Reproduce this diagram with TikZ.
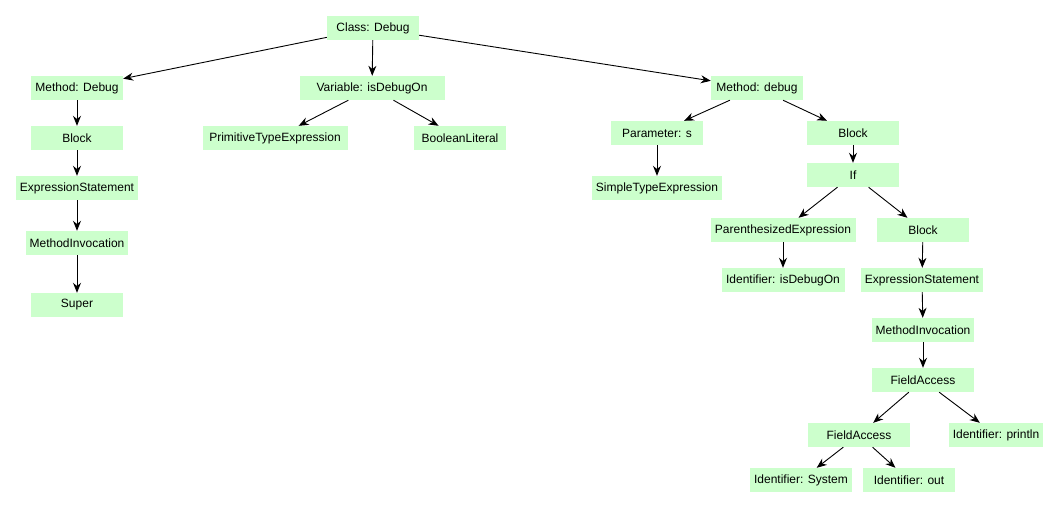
\documentclass[tikz,border=0pt]{standalone}
\usepackage{fontspec}
\setmainfont{Liberation Sans}
\usetikzlibrary{arrows.meta}
\definecolor{boxg}{HTML}{CCFFCC}
\begin{document}
\begin{tikzpicture}[x=1pt,y=-1pt,
  nd/.style={fill=boxg,minimum height=24pt,minimum width=92pt,inner xsep=4pt,font=\fontsize{12}{14}\selectfont},
  ar/.style={-{Stealth[length=10pt,width=8pt]},line width=0.9pt}]
\useasboundingbox (0,0) rectangle (1058,507);
\node[nd] (cls) at (373,28) {Class: Debug};
\node[nd] (md) at (77,88) {Method: Debug};
\node[nd,minimum width=145pt] (var) at (372,88) {Variable: isDebugOn};
\node[nd] (mdl) at (757,88) {Method: debug};
\node[nd] (b1) at (77,138) {Block};
\node[nd,minimum width=145pt] (pte) at (275,138) {PrimitiveTypeExpression};
\node[nd] (bl) at (460,138) {BooleanLiteral};
\node[nd] (ps) at (657,133) {Parameter: s};
\node[nd] (b2) at (853,133) {Block};
\node[nd,minimum width=127pt] (ste) at (657,188) {SimpleTypeExpression};
\node[nd] (if) at (853,175) {If};
\node[nd,minimum width=121pt] (es1) at (77,188) {ExpressionStatement};
\node[nd,minimum width=102pt] (mi1) at (77,243) {MethodInvocation};
\node[nd] (sup) at (77,305) {Super};
\node[nd,minimum width=145pt] (pe) at (783,230) {ParenthesizedExpression};
\node[nd] (b3) at (923,230) {Block};
\node[nd,minimum width=123pt] (idd) at (783,280) {Identifier: isDebugOn};
\node[nd,minimum width=121pt] (es2) at (922,280) {ExpressionStatement};
\node[nd,minimum width=102pt] (mi2) at (923,330) {MethodInvocation};
\node[nd,minimum width=102pt] (fa1) at (923,380) {FieldAccess};
\node[nd,minimum width=102pt] (fa2) at (859,435) {FieldAccess};
\node[nd] (ipl) at (996,435) {Identifier: println};
\node[nd,minimum width=93pt] (isys) at (801,480) {Identifier: System};
\node[nd] (iout) at (909,480) {Identifier: out};
\draw[ar] (cls) -- (md);
\draw[ar] (cls) -- (var);
\draw[ar] (cls) -- (mdl);
\draw[ar] (md) -- (b1);
\draw[ar] (b1) -- (es1);
\draw[ar] (es1) -- (mi1);
\draw[ar] (mi1) -- (sup);
\draw[ar] (var) -- (pte);
\draw[ar] (var) -- (bl);
\draw[ar] (mdl) -- (ps);
\draw[ar] (mdl) -- (b2);
\draw[ar] (ps) -- (ste);
\draw[ar] (b2) -- (if);
\draw[ar] (if) -- (pe);
\draw[ar] (if) -- (b3);
\draw[ar] (pe) -- (idd);
\draw[ar] (b3) -- (es2);
\draw[ar] (es2) -- (mi2);
\draw[ar] (mi2) -- (fa1);
\draw[ar] (fa1) -- (fa2);
\draw[ar] (fa1) -- (ipl);
\draw[ar] (fa2) -- (isys);
\draw[ar] (fa2) -- (iout);
\end{tikzpicture}
\end{document}
